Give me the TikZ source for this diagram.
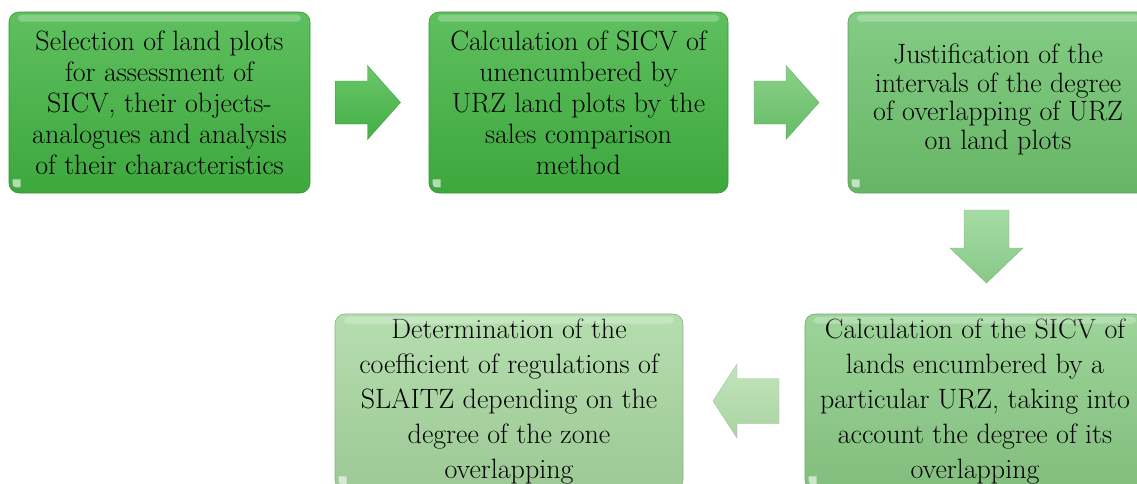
\documentclass[tikz,border=0pt]{standalone}
\usetikzlibrary{calc}
\definecolor{cA}{HTML}{42B442}
\definecolor{cB}{HTML}{42B442}
\definecolor{cC}{HTML}{6EC36E}
\definecolor{cD}{HTML}{8CCC87}
\definecolor{cE}{HTML}{A8D8A0}
\definecolor{aA}{HTML}{46B846}
\definecolor{aB}{HTML}{6CC66C}
\definecolor{aC}{HTML}{8FD38F}
\definecolor{aD}{HTML}{B2DEAA}
\tikzset{
  stepbox/.style={rounded corners=10pt, align=center, inner sep=0pt,
    top color=#1!85!white, bottom color=#1!93!black, draw=#1!82!black, line width=0.6pt,
    font=\fontsize{28}{31}\selectfont},
  lowbox/.style={stepbox=#1, font=\fontsize{28}{35}\selectfont},
  blockarrow/.style={top color=#1!80!white, bottom color=#1!95!black, draw=#1!88!black, line width=0.4pt},
  gloss/.style={fill=white, opacity=0.25, rounded corners=4pt},
  notch/.style={fill=white, opacity=0.6}
}
\begin{document}
\begin{tikzpicture}[x=1pt,y=-1pt]
\useasboundingbox (0,0) rectangle (1137,483);
% boxes
\node[stepbox=cA, minimum width=301pt, minimum height=181pt] (b1) at (159.5,102.5)
  {Selection of land plots\\for assessment of\\SICV, their objects-\\analogues and analysis\\of their characteristics};
\node[stepbox=cB, minimum width=299pt, minimum height=181pt] (b2) at (578.5,102.5)
  {Calculation of SICV of\\unencumbered by\\URZ land plots by the\\sales comparison\\method};
\node[stepbox=cC, minimum width=300pt, minimum height=181pt, font=\fontsize{28}{28.5}\selectfont, text depth=12pt] (b3) at (998,102.5)
  {Justification of the\\intervals of the degree\\of overlapping of URZ\\on land plots};
\node[lowbox=cD, minimum width=340pt, minimum height=176pt] (b4) at (975,402)
  {Calculation of the SICV of\\lands encumbered by a\\particular URZ, taking into\\account the degree of its\\overlapping};
\node[lowbox=cE, minimum width=348pt, minimum height=176pt] (b5) at (509,402)
  {Determination of the\\coefficient of regulations of\\SLAITZ depending on the\\degree of the zone\\overlapping};
% gloss highlights and corner notches
\foreach \b in {b1,b2,b3,b4,b5}{
  \fill[gloss] ([xshift=9pt,yshift=-3pt]\b.north west) rectangle ([xshift=-9pt,yshift=-10pt]\b.north east);
  \fill[notch] ([xshift=4pt,yshift=14pt]\b.south west) -- ++(8,0) -- ++(0,8) -- ++(-5,0) arc[start angle=270, end angle=180, radius=3pt] -- cycle;
}
% arrow anchors
\coordinate (a1) at ($(b1.east)!0.5!(b2.west)$);
\coordinate (a2) at ($(b2.east)!0.5!(b3.west)$);
\coordinate (a3) at ($(b3.south)!0.5!(b4.north)$);
\coordinate (a4) at ($(b5.east)!0.5!(b4.west)$);
% right arrows
\path[blockarrow=aA] (a1) ++(-34,-21.5) -- ++(32,0) -- ++(0,-15.5) -- ++(33,37) -- ++(-33,37) -- ++(0,-15.5) -- ++(-32,0) -- cycle;
\path[blockarrow=aB] (a2) ++(-34,-21.5) -- ++(32,0) -- ++(0,-15.5) -- ++(33,37) -- ++(-33,37) -- ++(0,-15.5) -- ++(-32,0) -- cycle;
% down arrow
\path[blockarrow=aC] (a3) ++(-22.5,-43.5) -- ++(45,0) -- ++(0,38) -- ++(14,0) -- ++(-36.5,35) -- ++(-36.5,-35) -- ++(14,0) -- cycle;
% left arrow
\path[blockarrow=aD] (a4) ++(35,-23.5) -- ++(-42,0) -- ++(0,-14.5) -- ++(-24,37) -- ++(24,37) -- ++(0,-14.5) -- ++(42,0) -- cycle;
\end{tikzpicture}
\end{document}
